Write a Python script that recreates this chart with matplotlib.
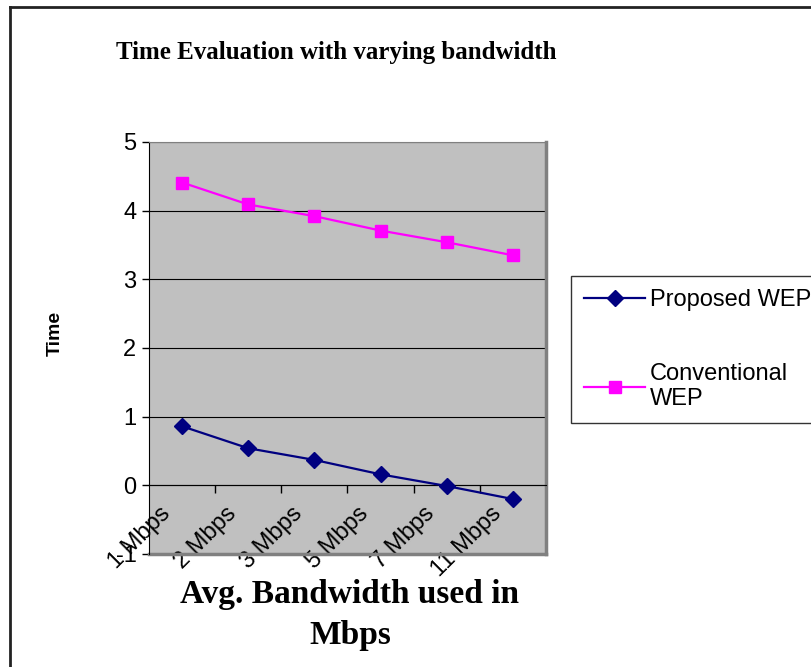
import matplotlib
matplotlib.use("Agg")
import matplotlib.pyplot as plt
from matplotlib.lines import Line2D
from matplotlib.transforms import ScaledTranslation

# data
bandwidths = ["1 Mbps", "2 Mbps", "3 Mbps", "5 Mbps", "7 Mbps", "11 Mbps"]
proposed_wep = [0.86, 0.54, 0.37, 0.16, -0.01, -0.20]
conventional_wep = [4.41, 4.09, 3.92, 3.71, 3.54, 3.35]
y_ticks = [-1, 0, 1, 2, 3, 4, 5]

W, H = 811, 667
fig = plt.figure(figsize=(W / 100, H / 100), dpi=100)
fig.patch.set_facecolor("white")

# plot area in pixel terms of the reference
ax = fig.add_axes([149 / W, 1 - 554 / H, (546 - 149) / W, (554 - 142) / H])
ax.set_facecolor("#C0C0C0")

x = list(range(len(bandwidths)))
ax.plot(x, proposed_wep, color="#000080", lw=1.6, marker="D", ms=8,
        label="Proposed WEP", zorder=3, clip_on=False)
ax.plot(x, conventional_wep, color="#FF00FF", lw=1.6, marker="s", ms=9,
        label="Conventional\nWEP", zorder=3, clip_on=False)

ax.set_xlim(-0.5, len(bandwidths) - 0.5)
ax.set_ylim(-1, 5)
ax.set_yticks(y_ticks)
ax.set_yticklabels([str(v) for v in y_ticks], fontsize=17, family="Liberation Sans")
ax.yaxis.grid(True, color="black", lw=0.8)
ax.set_axisbelow(True)
ax.tick_params(axis="y", direction="out", length=5, width=1, pad=4)

# category axis crosses at 0, ticks between categories
ax.spines["bottom"].set_position(("data", 0))
ax.spines["bottom"].set_color("black")
ax.spines["left"].set_color("black")
for s in ("top", "right"):
    ax.spines[s].set_color("#808080")
ax.spines["right"].set_linewidth(2.5)
ax.add_line(Line2D([0, 1], [0, 0], transform=ax.transAxes, color="#808080",
                   lw=2.5, clip_on=False))

ax.set_xticks(x)
ax.set_xticks([i + 0.5 for i in x], minor=True)
ax.tick_params(axis="x", which="major", length=0, pad=0)
ax.tick_params(axis="x", which="minor", direction="out", length=6, width=1)
ax.set_xticklabels(bandwidths, fontsize=17, family="Liberation Sans",
                   rotation=45, ha="right", va="top", rotation_mode="anchor")
shift = ScaledTranslation(-0.23, -0.17, fig.dpi_scale_trans)
for lbl in ax.get_xticklabels():
    lbl.set_transform(lbl.get_transform() + shift)

fig.text(336 / W, 1 - 52 / H, "Time Evaluation with varying bandwidth",
         ha="center", va="center", fontsize=18, fontweight="bold",
         family="Liberation Serif")
fig.text(350 / W, 1 - 615 / H, "Avg. Bandwidth used in\nMbps",
         ha="center", va="center", fontsize=24, fontweight="bold",
         family="Liberation Serif", linespacing=1.45)
fig.text(55 / W, 1 - 333 / H, "Time", rotation=90, ha="center", va="center",
         fontsize=14, fontweight="bold", family="Liberation Sans")

leg = fig.legend(loc="upper left", bbox_to_anchor=(571 / W, 1 - 276 / H),
                 frameon=True, fancybox=False, shadow=False,
                 prop={"family": "Liberation Sans", "size": 17},
                 handlelength=2.6, handletextpad=0.2, labelspacing=2.2,
                 borderpad=0.55, borderaxespad=0)
leg.get_frame().set_edgecolor("black")
leg.get_frame().set_linewidth(1)

# outer chart border (top and left visible in the crop)
fig.add_artist(Line2D([10 / W, 1], [1 - 7 / H, 1 - 7 / H], color="#222222", lw=2))
fig.add_artist(Line2D([10 / W, 10 / W], [0, 1 - 7 / H], color="#222222", lw=2))

fig.savefig("out.png", dpi=100)
